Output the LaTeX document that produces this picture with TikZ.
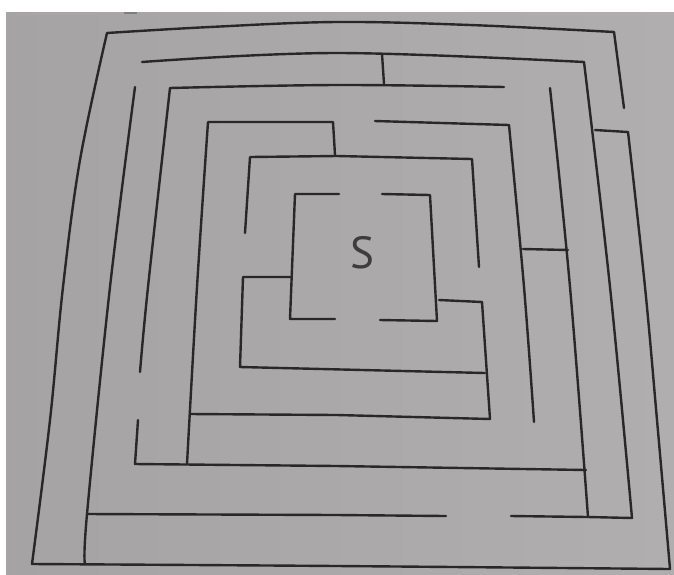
\documentclass[tikz,border=0pt]{standalone}
\usepackage{fontspec}
\newfontfamily\labelfont{PT Sans}
\definecolor{paper}{HTML}{B0AEAF}
\definecolor{paperdark}{HTML}{A5A3A4}
\definecolor{ink}{HTML}{282828}
\begin{document}
\begin{tikzpicture}[x=1pt,y=-1pt,
  wall/.style={draw=ink, line width=2.4pt, line cap=round, line join=round},
  label/.style={text=ink!90, font=\labelfont\fontsize{45}{45}\selectfont, inner sep=0pt}]
\useasboundingbox (0,0) rectangle (674,574);
\fill[white] (0,0) rectangle (674,574);
\shade[left color=paperdark, right color=paper] (6,12) rectangle (674,574);
% small mark at the top edge
\draw[ink!60, line width=1.5pt] (124,13) -- (137,13);
% outer wall
\draw[wall] plot[smooth, tension=0.6] coordinates {(624,108) (614,32)}
  -- plot[smooth, tension=0.6] coordinates {(614,32) (470,25) (337,22) (210,27) (107,33)}
  -- plot[smooth, tension=0.6] coordinates {(107,33) (80,160) (63,287) (50,420) (32,564)}
  -- plot[smooth, tension=0.6] coordinates {(32,564) (337,566) (670,569)}
  -- plot[smooth, tension=0.6] coordinates {(670,569) (657,420) (645,287) (628,132)}
  -- (595,130);
% ring 2
\draw[wall] plot[smooth, tension=0.6] coordinates {(142,62) (337,53) (584,62)}
  -- plot[smooth, tension=0.6] coordinates {(584,62) (610,287) (632,518)}
  -- (588,517) -- (511,516);
\draw[wall] plot[smooth, tension=0.6] coordinates {(135,87) (110,287) (87,514) (85,564)};
\draw[wall] (87,514) -- (337,515) -- (446,516);
\draw[wall] (382,54) -- (384,84);
% ring 3
\draw[wall] plot[smooth, tension=0.6] coordinates {(504,87) (337,85) (170,88)}
  -- plot[smooth, tension=0.6] coordinates {(170,88) (148,287) (140,372)};
\draw[wall] (138,420) -- (135,464) -- (337,466) -- (586,470);
\draw[wall] plot[smooth, tension=0.6] coordinates {(550,88) (570,287) (588,517)};
\draw[wall] (523,249) -- (568,250);
% ring 4
\draw[wall] (335,155) -- (333,122) -- (208,122)
  -- plot[smooth, tension=0.6] coordinates {(208,122) (197,287) (187,464)};
\draw[wall] (375,121) -- (509,125)
  -- plot[smooth, tension=0.6] coordinates {(509,125) (524,287) (534,422)};
\draw[wall] (439,300) -- (482,302) -- (490,419) -- (337,415) -- (190,414);
% ring 5
\draw[wall] (245,233) -- (250,157) -- (337,156) -- (472,159) -- (479,267);
\draw[wall] (291,277) -- (243,277) -- (240,367) -- (485,373);
% inner box
\draw[wall] (339,194) -- (295,194) -- (290,319) -- (335,319);
\draw[wall] (382,194) -- (430,195) -- (437,321) -- (380,320);
\node[label] (s) at (362,253) {S};
\end{tikzpicture}
\end{document}
